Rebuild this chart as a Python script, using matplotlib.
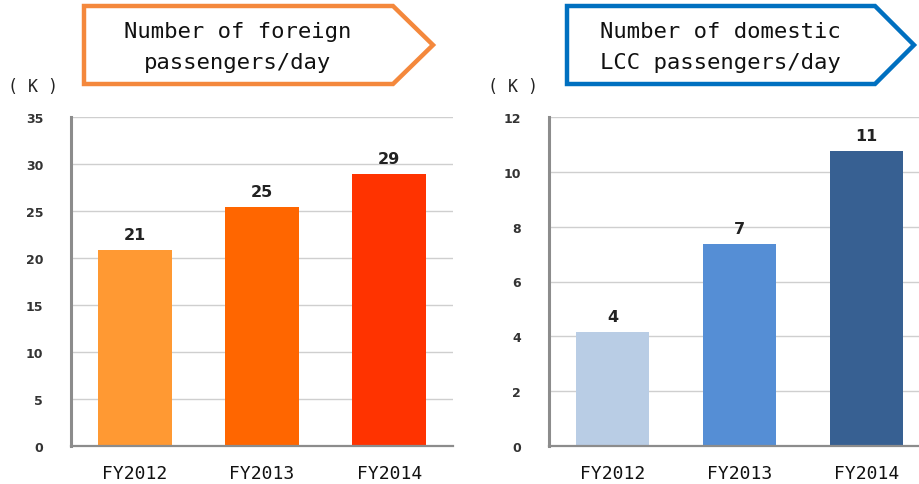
import matplotlib.pyplot as plt
from matplotlib.patches import Polygon

years = ["FY2012", "FY2013", "FY2014"]

foreign = [20.85, 25.4, 28.9]       # thousand passengers / day
foreign_labels = ["21", "25", "29"]
foreign_colors = ["#FF9933", "#FF6600", "#FF3300"]

lcc = [4.16, 7.35, 10.75]
lcc_labels = ["4", "7", "11"]
lcc_colors = ["#B9CDE5", "#558ED5", "#376092"]

W, H = 920, 485
fig = plt.figure(figsize=(W / 100, H / 100), dpi=100)


def fx(px):
    return px / W


def fy(py):
    return 1 - py / H


def draw_panel(rect, values, labels, colors, ymax, step):
    ax = fig.add_axes(rect)
    x = range(len(years))
    ax.bar(x, values, width=0.58, color=colors, zorder=3)
    for i, (v, lab) in enumerate(zip(values, labels)):
        ax.annotate(lab, (i, v), xytext=(0, 6), textcoords="offset points",
                    ha="center", va="bottom", fontsize=11.5, fontweight="bold",
                    color="#222222")
    ax.set_xlim(-0.5, 2.5)
    ax.set_ylim(0, ymax)
    ax.set_yticks(range(0, ymax + 1, step))
    ax.set_xticks(list(x))
    ax.set_xticklabels(years, family="DejaVu Sans Mono", fontsize=13, color="#111111")
    ax.tick_params(axis="x", length=0, pad=13)
    ax.tick_params(axis="y", length=0, pad=20, labelsize=9, labelcolor="#333333")
    for t in ax.get_yticklabels():
        t.set_fontweight("bold")
    ax.grid(axis="y", color="#CFCFCF", linewidth=1, zorder=0)
    for s in ["top", "right"]:
        ax.spines[s].set_visible(False)
    ax.spines["left"].set_color("#8C8C8C")
    ax.spines["left"].set_linewidth(2.2)
    ax.spines["bottom"].set_color("#8C8C8C")
    ax.spines["bottom"].set_linewidth(1.6)
    ax.spines["left"].set_zorder(4)
    ax.spines["bottom"].set_zorder(4)
    return ax


# left panel: foreign passengers
draw_panel([fx(71), fy(447), fx(382), 329 / H], foreign, foreign_labels, foreign_colors, 35, 5)
# right panel: domestic LCC passengers (runs off the right edge like the original)
draw_panel([fx(549), fy(447), fx(381), 329 / H], lcc, lcc_labels, lcc_colors, 12, 2)


def title_box(x0, x1, tip, color, lines, cx):
    pts = [(x0, 7), (x1, 7), (tip, 46), (x1, 85), (x0, 85)]
    fig.patches.append(Polygon([(fx(a), fy(b)) for a, b in pts], closed=True,
                               transform=fig.transFigure, facecolor="white",
                               edgecolor=color, linewidth=3.2, joinstyle="miter"))
    for (txt, ty) in zip(lines, [32, 63]):
        fig.text(fx(cx), fy(ty), txt, ha="center", va="center",
                 family="DejaVu Sans Mono", fontsize=16, color="#111111")


title_box(84, 393, 433, "#F4883C", ["Number of foreign", "passengers/day"], 238)
title_box(567, 875, 914, "#0070C0", ["Number of domestic", "LCC passengers/day"], 720)

fig.text(fx(33), fy(87), "( K )", ha="center", va="center",
         family="DejaVu Sans Mono", fontsize=12, color="#222222")
fig.text(fx(513), fy(87), "( K )", ha="center", va="center",
         family="DejaVu Sans Mono", fontsize=12, color="#222222")

fig.savefig("out.png", dpi=100)
